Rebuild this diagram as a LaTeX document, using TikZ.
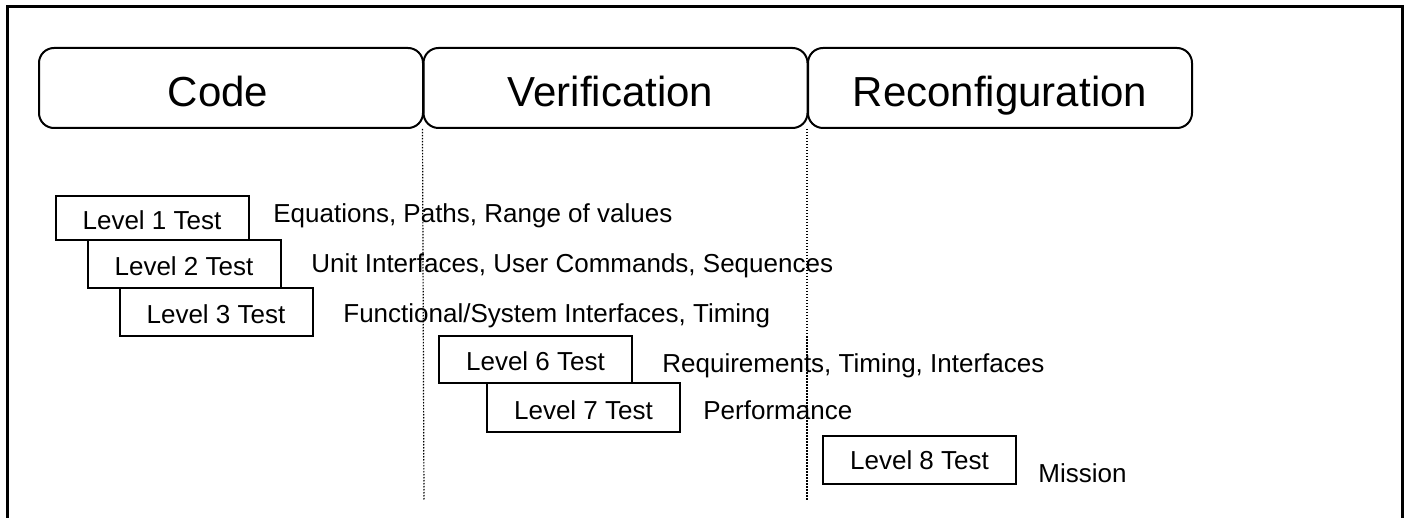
\documentclass[tikz,border=0pt]{standalone}
\usepackage{fontspec}
\setmainfont{Liberation Sans}
\usepackage{tikz}
\tikzset{phase/.style={draw,rounded corners=7.5pt,line width=1pt,minimum width=192pt,minimum height=40pt,inner sep=0pt,text height=18.5pt,text depth=0pt,font=\fontsize{21}{25}\selectfont},
  level/.style={draw,line width=1pt,minimum width=96.5pt,minimum height=24pt,inner sep=0pt,text height=11.5pt,text depth=0pt,font=\fontsize{13}{15}\selectfont},
  note/.style={anchor=base west,inner sep=0pt,font=\fontsize{13}{15}\selectfont},
  sep/.style={line width=0.6pt,dash pattern=on 0.75pt off 0.75pt}}

\begin{document}
\begin{tikzpicture}[x=0.5pt,y=-0.5pt]
      \useasboundingbox (0,0) rectangle (1409,518);
      \draw[line width=1.5pt] (7,518) -- (7,7) -- (1402,7) -- (1402,518);

      \node[phase] (C) at (231,88) {Code\hspace*{13pt}};
      \node[phase] (V) at (615.5,88) {Verification\hspace*{5pt}};
      \node[phase] (R) at (1000,88) {Reconfiguration};

      \node[level,minimum height=22pt] (L1) at (152,218) {Level 1 Test};
      \node[level] (L2) at (184,264) {Level 2 Test};
      \node[level] (L3) at (216,312) {Level 3 Test};
      \node[level,minimum height=23.5pt] (L6) at (535.5,359.5) {Level 6 Test};
      \node[level,minimum height=24.5pt] (L7) at (583.5,407.5) {Level 7 Test};
      \node[level,text height=9pt] (L8) at (919.5,460) {Level 8 Test};

      \node[note] (N1) at (273,223) {Equations, Paths, Range of values};
      \node[note] (N2) at (311,273) {Unit Interfaces, User Commands, Sequences};
      \node[note] (N3) at (343,322) {Functional/System Interfaces, Timing};
      \node[note] (N6) at (662,372) {Requirements, Timing, Interfaces};
      \node[note] (N7) at (703,420) {Performance};
      \node[note] (N8) at (1038,482) {Mission};

      \coordinate (E1) at (424,500);
      \coordinate (E2) at (807,500);
      \draw[sep] (V.south west) -- (E1);
      \draw[sep] (R.south west) -- (E2);
    \end{tikzpicture}
\end{document}
